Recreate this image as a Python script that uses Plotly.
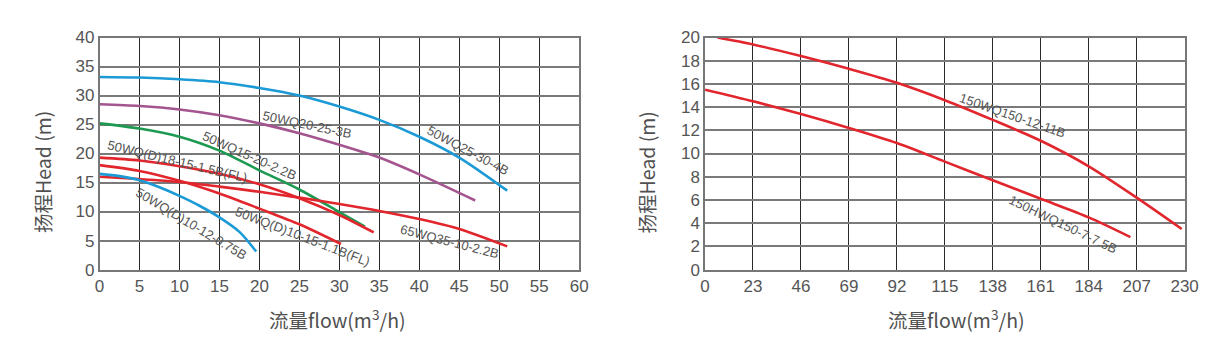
import plotly.graph_objects as go

# ---------------- data (left chart) ----------------
l_names = ["50WQ25-30-4B", "50WQ20-25-3B", "50WQ15-20-2.2B",
           "50WQ(D)18-15-1.5B(FL)", "50WQ(D)10-15-1.1B(FL)",
           "50WQ(D)10-12-0.75B", "65WQ35-10-2.2B"]
q_25_30 = [0, 5, 10, 15, 20, 25, 30, 35, 40, 45, 51]
h_25_30 = [33.2, 33.1, 32.8, 32.3, 31.3, 30.0, 28.1, 25.8, 22.9, 19.3, 13.6]
q_20_25 = [0, 5, 10, 15, 20, 25, 30, 35, 40, 47]
h_20_25 = [28.5, 28.2, 27.6, 26.6, 25.2, 23.5, 21.5, 19.3, 16.4, 11.9]
q_15_20 = [0, 5, 10, 15, 20, 25, 30, 33.2]
h_15_20 = [25.2, 24.3, 22.9, 20.5, 17.1, 13.8, 9.9, 7.4]
q_18_15 = [0, 5, 10, 15, 20, 25, 30, 34.3]
h_18_15 = [19.3, 18.8, 17.8, 16.5, 14.7, 12.3, 9.4, 6.4]
q_10_15 = [0, 5, 10, 15, 20, 25, 30.2]
h_10_15 = [18.0, 17.0, 15.3, 13.1, 10.5, 7.8, 4.4]
q_10_12 = [0, 2.5, 5, 7.5, 10, 12.5, 15, 17.5, 19.6]
h_10_12 = [16.5, 16.1, 15.4, 14.2, 12.7, 11.0, 9.0, 6.5, 3.1]
q_35_10 = [0, 5, 10, 15, 20, 25, 30, 35, 40, 45, 51]
h_35_10 = [16.0, 15.6, 15.1, 14.3, 13.4, 12.4, 11.3, 10.1, 8.7, 7.0, 4.0]
l_xticks = list(range(0, 61, 5))
l_yticks = list(range(0, 41, 5))

# ---------------- data (right chart) ----------------
r_names = ["150WQ150-12-11B", "150HWQ150-7-7.5B"]
q_150_12 = [6, 23, 46, 69, 92, 115, 138, 161, 184, 207, 228.6]
h_150_12 = [20.0, 19.4, 18.4, 17.3, 16.1, 14.6, 12.9, 11.1, 8.9, 6.2, 3.5]
q_150_7 = [0, 23, 46, 69, 92, 115, 138, 161, 184, 204]
h_150_7 = [15.5, 14.5, 13.4, 12.2, 10.9, 9.3, 7.7, 6.1, 4.5, 2.8]
r_xticks = list(range(0, 231, 23))
r_yticks = list(range(0, 21, 2))

BLUE = "#1c9ad6"
PURPLE = "#a4548f"
GREEN = "#1d9a52"
RED = "#e1262d"

fig = go.Figure()

def add(q, h, color, xa="x", ya="y"):
    fig.add_trace(go.Scatter(x=q, y=h, mode="lines", xaxis=xa, yaxis=ya,
                             line=dict(color=color, width=2.6, shape="spline", smoothing=0.8),
                             showlegend=False, hoverinfo="skip"))

add(q_25_30, h_25_30, BLUE)
add(q_20_25, h_20_25, PURPLE)
add(q_15_20, h_15_20, GREEN)
add(q_35_10, h_35_10, RED)
add(q_18_15, h_18_15, RED)
add(q_10_15, h_10_15, RED)
add(q_10_12, h_10_12, BLUE)
add(q_150_12, h_150_12, RED, "x2", "y2")
add(q_150_7, h_150_7, RED, "x2", "y2")

# figure placed with the page's 8px body margin; the photographed image
# is slightly rescaled, so target pixel positions are converted back.
OFF = 8
W, H = 1200, 346
def fx(obs):
    p = (obs - 3.5) / 0.985
    return (p - OFF) / W
def fy(obs):
    p = (obs - 7.7) / 0.953
    return 1 - (p - OFF) / H

tickfont = dict(family="Liberation Sans Narrow, Arial Narrow, Liberation Sans, sans-serif",
                size=17, color="#555555")

ydom = [fy(270), fy(36)]
fig.update_layout(
    width=W, height=H,
    margin=dict(l=0, r=0, t=0, b=0),
    paper_bgcolor="white", plot_bgcolor="white",
    xaxis=dict(domain=[fx(98), fx(578)], range=[0, 60], tickvals=l_xticks,
               showgrid=True, gridcolor="#2a2a2a", gridwidth=1, zeroline=False,
               showline=True, linecolor="#777777", linewidth=1.5, mirror=True,
               ticks="", tickfont=tickfont, anchor="y"),
    yaxis=dict(domain=ydom, range=[0, 40], tickvals=l_yticks,
               showgrid=True, gridcolor="#7a7a7a", gridwidth=1.5, zeroline=False,
               showline=True, linecolor="#777777", linewidth=1.5, mirror=True,
               ticks="", tickfont=tickfont, anchor="x"),
    xaxis2=dict(domain=[fx(704), fx(1184)], range=[0, 230], tickvals=r_xticks,
                showgrid=True, gridcolor="#2a2a2a", gridwidth=1, zeroline=False,
                showline=True, linecolor="#777777", linewidth=1.5, mirror=True,
                ticks="", tickfont=tickfont, anchor="y2"),
    yaxis2=dict(domain=ydom, range=[0, 20], tickvals=r_yticks,
                showgrid=True, gridcolor="#7a7a7a", gridwidth=1.5, zeroline=False,
                showline=True, linecolor="#777777", linewidth=1.5, mirror=True,
                ticks="", tickfont=tickfont, anchor="x2"),
)

lblfont = dict(family="Liberation Sans, Arial, sans-serif", size=13, color="#555555")
labels_left = [
    (l_names[0], 46.1, 20.6, 28),
    (l_names[1], 25.9, 25.0, 12),
    (l_names[2], 18.7, 19.7, 24),
    (l_names[3], 9.8, 18.7, 13.5),
    (l_names[4], 25.4, 5.7, 21),
    (l_names[5], 11.4, 7.9, 31),
    (l_names[6], 43.8, 4.8, 14.5),
]
for t, x, y, a in labels_left:
    fig.add_annotation(text=t, x=x, y=y, xref="x", yref="y", showarrow=False,
                       textangle=a, font=lblfont)
labels_right = [
    (r_names[0], 147.6, 13.3, 19),
    (r_names[1], 171.8, 3.85, 25.5),
]
for t, x, y, a in labels_right:
    fig.add_annotation(text=t, x=x, y=y, xref="x2", yref="y2", showarrow=False,
                       textangle=a, font=lblfont)

titlefont = dict(family="Noto Sans CJK SC, sans-serif", size=19.5, color="#505050")
for cx in (41, 645):
    fig.add_annotation(text="扬程Head (m)", x=fx(cx), y=fy(172), xref="paper", yref="paper",
                       showarrow=False, textangle=-90, font=titlefont,
                       xanchor="center", yanchor="middle")
for cx in (336, 956):
    fig.add_annotation(text="流量flow(m<sup>3</sup>/h)", x=fx(cx), y=fy(320),
                       xref="paper", yref="paper", showarrow=False, font=titlefont,
                       xanchor="center", yanchor="middle")

fig.write_html("out.html")
